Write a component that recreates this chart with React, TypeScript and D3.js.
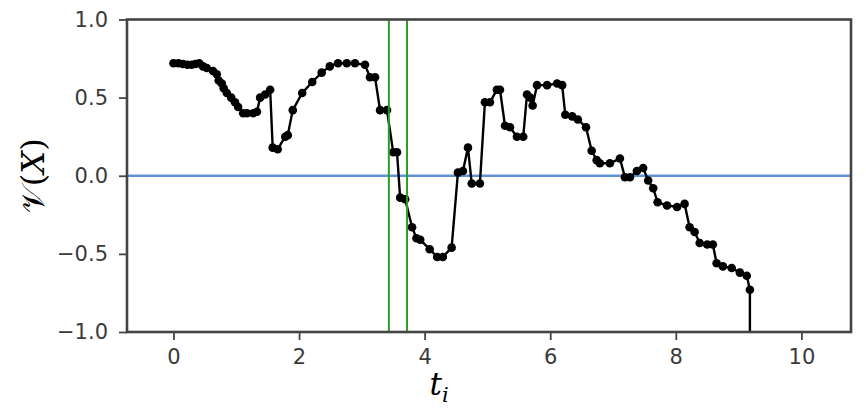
import React, { useEffect, useRef } from 'react';
import * as d3 from 'd3';

// sampled time points t_i and value V(X)
const tValues = [
  0.0, 0.08, 0.15, 0.22, 0.29, 0.35, 0.41, 0.47, 0.53, 0.63, 0.69, 0.72, 0.77, 0.8, 0.85, 0.92, 0.98,
  1.03, 1.11, 1.17, 1.27, 1.33, 1.38, 1.46, 1.54, 1.58, 1.66, 1.78, 1.82, 1.9, 2.05, 2.21, 2.36, 2.49,
  2.62, 2.76, 2.89, 3.05, 3.13, 3.21, 3.29, 3.4, 3.5, 3.56, 3.61, 3.69, 3.8, 3.87, 3.93, 4.08, 4.2,
  4.29, 4.43, 4.53, 4.61, 4.69, 4.75, 4.88, 4.96, 5.04, 5.15, 5.2, 5.28, 5.36, 5.47, 5.57, 5.63, 5.68,
  5.72, 5.79, 5.95, 6.11, 6.19, 6.24, 6.35, 6.44, 6.57, 6.66, 6.74, 6.79, 6.95, 7.11, 7.19, 7.27, 7.38,
  7.48, 7.56, 7.64, 7.71, 7.86, 8.02, 8.14, 8.22, 8.3, 8.38, 8.5, 8.59, 8.65, 8.75, 8.89, 9.02, 9.13,
  9.18, 9.18,
];
const vValues = [
  0.72, 0.72, 0.715, 0.71, 0.71, 0.715, 0.72, 0.7, 0.69, 0.67, 0.65, 0.61, 0.59, 0.56, 0.53, 0.5, 0.47,
  0.44, 0.4, 0.4, 0.4, 0.41, 0.5, 0.52, 0.55, 0.18, 0.17, 0.25, 0.26, 0.42, 0.53, 0.6, 0.66, 0.7,
  0.72, 0.72, 0.72, 0.71, 0.63, 0.63, 0.42, 0.42, 0.15, 0.15, -0.14, -0.15, -0.33, -0.4, -0.41, -0.47, -0.52,
  -0.52, -0.46, 0.02, 0.03, 0.18, -0.05, -0.05, 0.47, 0.47, 0.55, 0.55, 0.32, 0.31, 0.25, 0.25, 0.52, 0.5,
  0.45, 0.58, 0.58, 0.59, 0.58, 0.39, 0.38, 0.36, 0.31, 0.16, 0.1, 0.08, 0.08, 0.11, -0.01, -0.01, 0.03,
  0.05, -0.03, -0.08, -0.17, -0.19, -0.2, -0.18, -0.33, -0.36, -0.43, -0.44, -0.44, -0.56, -0.58, -0.59, -0.62, -0.64,
  -0.73, -1.0,
];
const markedTimes = [3.43, 3.72];
const xTicks = [0, 2, 4, 6, 8, 10];
const yTicks = [-1.0, -0.5, 0.0, 0.5, 1.0];

const App = () => {
  const ref = useRef<SVGSVGElement | null>(null);

  useEffect(() => {
    if (!ref.current) return;
    const width = 866;
    const height = 416;
    const left = 127, right = 851, top = 19.5, bottom = 332;

    const svg = d3.select(ref.current);
    svg.selectAll('*').remove();

    const x = d3.scaleLinear().domain([-0.74, 10.79]).range([left, right]);
    const y = d3.scaleLinear().domain([-1, 1]).range([bottom, top]);

    const defs = svg.append('defs');
    defs.append('clipPath').attr('id', 'plot-clip')
      .append('rect').attr('x', left).attr('y', top).attr('width', right - left).attr('height', bottom - top);

    const plot = svg.append('g').attr('clip-path', 'url(#plot-clip)');

    // zero line
    plot.append('line')
      .attr('x1', left).attr('x2', right)
      .attr('y1', y(0)).attr('y2', y(0))
      .attr('stroke', '#5f93d3').attr('stroke-width', 2.6);

    const data = tValues.map((t, i) => ({ t, v: vValues[i] }));

    plot.append('path')
      .datum(data)
      .attr('fill', 'none')
      .attr('stroke', '#000')
      .attr('stroke-width', 2.4)
      .attr('d', d3.line<{ t: number; v: number }>().x(d => x(d.t)).y(d => y(d.v)));

    plot.selectAll('circle.pt')
      .data(data.slice(0, -1))
      .enter()
      .append('circle')
      .attr('class', 'pt')
      .attr('cx', d => x(d.t))
      .attr('cy', d => y(d.v))
      .attr('r', 4.3)
      .attr('fill', '#000');

    // vertical markers
    plot.selectAll('line.mark')
      .data(markedTimes)
      .enter()
      .append('line')
      .attr('class', 'mark')
      .attr('x1', d => x(d)).attr('x2', d => x(d))
      .attr('y1', top).attr('y2', bottom)
      .attr('stroke', '#2f9a2a').attr('stroke-width', 2);

    // axes
    const xAxis = d3.axisBottom(x).tickValues(xTicks).tickFormat(d3.format('d')).tickSize(8).tickPadding(9);
    const yAxis = d3.axisLeft(y).tickValues(yTicks)
      .tickFormat(d => d3.format('.1f')(d as number).replace('-', '\u2212'))
      .tickSize(8).tickPadding(11);

    const gx = svg.append('g').attr('transform', `translate(0,${bottom})`).call(xAxis);
    const gy = svg.append('g').attr('transform', `translate(${left},0)`).call(yAxis);
    [gx, gy].forEach(g => {
      g.select('.domain').remove();
      g.selectAll('line').attr('stroke', '#444').attr('stroke-width', 1.8);
      g.selectAll('text')
        .attr('fill', '#3a3a3a')
        .style('font-family', '"DejaVu Sans", sans-serif')
        .style('font-size', '21px');
    });

    // frame
    svg.append('rect')
      .attr('x', left).attr('y', top)
      .attr('width', right - left).attr('height', bottom - top)
      .attr('fill', 'none').attr('stroke', '#444').attr('stroke-width', 2.6);

    // axis labels
    const xl = svg.append('text')
      .attr('x', (left + right) / 2 - 50)
      .attr('y', 395)
      .attr('text-anchor', 'middle')
      .style('font-family', '"DejaVu Serif", serif')
      .style('font-size', '31px')
      .style('font-style', 'italic');
    xl.append('tspan').text('t');
    xl.append('tspan').attr('dy', 7).style('font-size', '21px').text('i');

    const yl = svg.append('text')
      .attr('transform', `translate(44,${(top + bottom) / 2}) rotate(-90)`)
      .attr('text-anchor', 'middle')
      .style('font-family', '"DejaVu Serif", serif')
      .style('font-size', '32px');
    yl.append('tspan').text('\u{1D4B1}');
    yl.append('tspan').text('(');
    yl.append('tspan').style('font-style', 'italic').text('X');
    yl.append('tspan').text(')');

    svg.attr('width', width).attr('height', height);
  }, []);

  return (
    <svg
      ref={ref}
      width={866}
      height={416}
      style={{ position: 'absolute', left: 0, top: 0, background: '#fff' }}
    />
  );
};

export default App;
